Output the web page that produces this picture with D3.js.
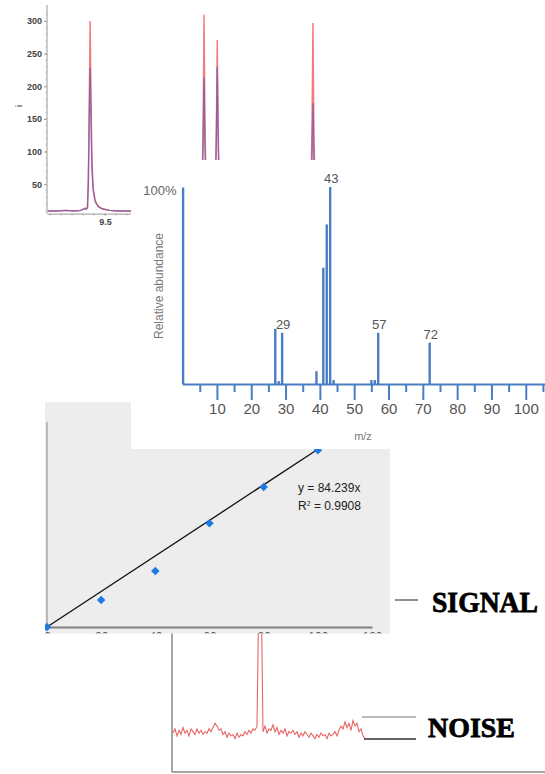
<!DOCTYPE html>
<meta charset="utf-8">
<script src="https://cdn.jsdelivr.net/npm/d3@7"></script>
<style>
body { margin: 0; background: #fff; }
svg { display: block; }
.serifbig { font-family: "Liberation Serif", "DejaVu Serif", serif; font-weight: 900; }
</style>
<body></body>
<script>
// ---- chromatogram (top left) ----
var chromTime = [9.24, 9.28, 9.32, 9.36, 9.39, 9.41, 9.415, 9.42, 9.424, 9.428, 9.432, 9.436, 9.44, 9.446, 9.455, 9.47, 9.49, 9.52, 9.56, 9.62, 9.7, 9.8, 9.9, 9.93, 9.94, 9.946, 9.95, 9.954, 9.96, 9.97, 9.99, 10.0, 10.006, 10.01, 10.014, 10.02, 10.03, 10.05, 10.1, 10.2, 10.3, 10.4, 10.425, 10.435, 10.441, 10.445, 10.449, 10.455, 10.465, 10.49, 10.6, 10.8, 11.0, 11.2, 11.5];
var chromRed = [9, 9, 10, 9, 10, 13, 12, 14, 60, 180, 300, 190, 90, 45, 25, 16, 12, 10, 9, 9, 9, 9, 9, 9, 20, 150, 310, 150, 25, 12, 10, 20, 140, 271, 140, 22, 11, 9, 9, 9, 9, 9, 9, 20, 150, 297, 150, 22, 11, 9, 9, 9, 9, 9, 9];
var chromPurple = [9, 9, 10, 9, 10, 13, 12, 14, 50, 140, 228, 150, 75, 40, 23, 15, 12, 10, 9, 9, 9, 9, 9, 9, 18, 110, 214, 110, 22, 12, 10, 18, 120, 229, 120, 20, 11, 9, 9, 9, 9, 9, 9, 18, 90, 174, 90, 20, 11, 9, 9, 9, 9, 9, 9];
var chromTicks = [50, 100, 150, 200, 250, 300];

// ---- mass spectrum ----
var msMz = [27, 28, 29, 39, 41, 42, 43, 44, 55, 56, 57, 72];
var msAbund = [28, 1.5, 26, 6.5, 59, 81, 100, 2, 2, 2, 26, 21];
var msLabelled = [29, 43, 57, 72];
var msMajorTicks = [10, 20, 30, 40, 50, 60, 70, 80, 90, 100];
var msMinorTicks = [5, 15, 25, 35, 45, 55, 65, 75, 85, 95, 105];

// ---- calibration ----
var calConc = [0, 20, 40, 60, 80, 100];
var calResp = [0, 1280, 2650, 4920, 6630, 8380];
var calSlope = 84.239;
var calXTicks = [0, 20, 40, 60, 80, 100, 120];

// ---- signal / noise trace ----
var noise = [28, 31, 26, 30, 27, 32, 28, 30, 26, 31,
             29, 27, 31, 28, 30, 27, 29, 28, 31, 29,
             32, 35, 33, 30, 31, 27, 29, 25, 28, 26,
             27, 24, 28, 25, 27, 26, 29, 27, 30, 28,
             31, 30, 33, 140, 140, 29, 33, 28, 31, 30,
             34, 29, 32, 27, 30, 28, 31, 26, 29, 28,
             30, 27, 29, 25, 28, 26, 29, 27, 25, 28,
             26, 24, 27, 25, 28, 26, 27, 24, 28, 26,
             27, 29, 26, 30, 33, 31, 36, 32, 35, 30,
             37, 33, 35, 29, 31, 26, 24];

var W = 545, H = 774;
var svg = d3.select("body").append("svg").attr("width", W).attr("height", H);
svg.append("rect").attr("width", W).attr("height", H).attr("fill", "#fff");
var defs = svg.append("defs");

// ================= chromatogram =================
var xC = d3.scaleLinear().domain([9.236, 11.5]).range([47, 545]);
var yC = d3.scaleLinear().domain([5, 300]).range([213.6, 21]);
var gC = svg.append("g");

var chromData = chromTime.map(function(t, i) { return {t: t, r: chromRed[i], p: chromPurple[i]}; });
gC.append("path").datum(chromData)
  .attr("fill", "none").attr("stroke", "#f27a7a").attr("stroke-width", 1.4)
  .attr("d", d3.line().x(function(d) { return xC(d.t); }).y(function(d) { return yC(d.r); }));
gC.append("path").datum(chromData)
  .attr("fill", "none").attr("stroke", "#7b5aa6").attr("stroke-width", 1.4).attr("opacity", 0.8)
  .attr("d", d3.line().x(function(d) { return xC(d.t); }).y(function(d) { return yC(d.p); }));

var yAxC = gC.append("g").attr("transform", "translate(47,0)")
  .call(d3.axisLeft(yC).tickValues(chromTicks).tickSize(3).tickPadding(2).tickSizeOuter(0));
yAxC.select(".domain").attr("stroke", "#999").attr("d", "M0,5V213.6");
yAxC.selectAll(".tick line").attr("stroke", "#999");
yAxC.selectAll("text").attr("font-family", "Liberation Sans, Arial, sans-serif")
  .attr("font-size", 9).attr("font-weight", "bold").attr("fill", "#444");
// minor ticks on the intensity axis
gC.append("g").selectAll("line").data(d3.range(10, 320, 10)).enter().append("line")
  .attr("x1", 45.5).attr("x2", 47).attr("y1", function(d) { return yC(d); }).attr("y2", function(d) { return yC(d); })
  .attr("stroke", "#aaa").attr("stroke-width", 0.8);

var xAxC = gC.append("g").attr("transform", "translate(0,213.6)")
  .call(d3.axisBottom(xC).tickValues([9.5]).tickSize(2).tickPadding(3).tickFormat(d3.format(".1f")).tickSizeOuter(0));
xAxC.select(".domain").attr("stroke", "#999");
xAxC.selectAll(".tick line").attr("stroke", "#999");
xAxC.selectAll("text").attr("font-family", "Liberation Sans, Arial, sans-serif")
  .attr("font-size", 9).attr("font-weight", "bold").attr("fill", "#444");
gC.append("g").selectAll("line").data(d3.range(9.25, 9.66, 0.05)).enter().append("line")
  .attr("x1", function(d) { return xC(d); }).attr("x2", function(d) { return xC(d); })
  .attr("y1", 213.6).attr("y2", 215.5).attr("stroke", "#aaa");
gC.append("text").attr("transform", "translate(22,106) rotate(-90)")
  .attr("text-anchor", "middle").attr("font-family", "Liberation Sans, Arial, sans-serif")
  .attr("font-size", 9).attr("fill", "#444").text("i");

// ================= signal / noise panel =================
var gN = svg.append("g");
var xN = d3.scaleLinear().domain([0, noise.length - 1]).range([173, 365]);
var yN = d3.scaleLinear().domain([0, 100]).range([772, 633]);
gN.append("rect").attr("x", 170).attr("y", 633).attr("width", 375).attr("height", 141).attr("fill", "#fff");
gN.append("path").datum(noise)
  .attr("fill", "none").attr("stroke", "#e34b4b").attr("stroke-width", 1.1).attr("opacity", 0.85)
  .attr("d", d3.line().x(function(d, i) { return xN(i); }).y(function(d) { return yN(d); }));
gN.append("line").attr("x1", 172).attr("x2", 172).attr("y1", 633).attr("y2", 772)
  .attr("stroke", "#888").attr("stroke-width", 1.5);
gN.append("line").attr("x1", 172).attr("x2", 545).attr("y1", 772).attr("y2", 772)
  .attr("stroke", "#888").attr("stroke-width", 1.5);

// ================= calibration panel =================
defs.append("clipPath").attr("id", "calClip").append("rect")
  .attr("x", 45).attr("y", 402).attr("width", 345).attr("height", 231.5);
var gK = svg.append("g").attr("clip-path", "url(#calClip)");
var xK = d3.scaleLinear().domain([0, 120]).range([47, 372]);
var yK = d3.scaleLinear().domain([0, 10000]).range([627, 416]);
gK.append("rect").attr("x", 45).attr("y", 402).attr("width", 345).attr("height", 232).attr("fill", "#ededed");
gK.append("line").attr("x1", 47).attr("x2", 47).attr("y1", 422).attr("y2", 627)
  .attr("stroke", "#999").attr("stroke-width", 1.2);
var xAxK = gK.append("g").attr("transform", "translate(0,627)")
  .call(d3.axisBottom(xK).tickValues(calXTicks).tickSize(0).tickPadding(5).tickSizeOuter(0));
xAxK.select(".domain").attr("stroke", "#808080").attr("stroke-width", 2);
xAxK.selectAll("text").attr("font-family", "Liberation Sans, Arial, sans-serif")
  .attr("font-size", 12).attr("fill", "#555");
gK.append("line")
  .attr("x1", xK(0)).attr("y1", yK(0)).attr("x2", xK(100)).attr("y2", yK(calSlope * 100))
  .attr("stroke", "#111").attr("stroke-width", 1.3);
gK.selectAll(".pt").data(calConc).enter().append("path").attr("class", "pt")
  .attr("transform", function(d, i) { return "translate(" + xK(d) + "," + yK(calResp[i]) + ") rotate(45)"; })
  .attr("d", d3.symbol().type(d3.symbolSquare).size(36))
  .attr("fill", "#1f7ae0");
var eq = gK.append("text").attr("font-family", "Liberation Sans, Arial, sans-serif")
  .attr("font-size", 12).attr("fill", "#222");
eq.append("tspan").attr("x", 298).attr("y", 492).text("y = " + calSlope + "x");
var r2 = gK.append("text").attr("font-family", "Liberation Sans, Arial, sans-serif")
  .attr("font-size", 12).attr("fill", "#222").attr("x", 298).attr("y", 510);
r2.append("tspan").text("R");
r2.append("tspan").attr("dy", -4).attr("font-size", 7).text("2");
r2.append("tspan").attr("dy", 4).text(" = 0.9908");

// ================= mass spectrum =================
var gM = svg.append("g");
gM.append("rect").attr("x", 131).attr("y", 160).attr("width", 414).attr("height", 289).attr("fill", "#fff");
var xM = d3.scaleLinear().domain([0, 105.6]).range([182.6, 545]);
var yM = d3.scaleLinear().domain([0, 100]).range([384, 187]);
var blue = "#4a7ec4";

gM.selectAll(".peak").data(msMz).enter().append("line").attr("class", "peak")
  .attr("x1", function(d) { return xM(d); }).attr("x2", function(d) { return xM(d); })
  .attr("y1", yM(0)).attr("y2", function(d, i) { return yM(msAbund[i]); })
  .attr("stroke", blue).attr("stroke-width", 2.4);

var xAxM = gM.append("g").attr("transform", "translate(0,384)")
  .call(d3.axisBottom(xM).tickValues(msMajorTicks).tickSize(16).tickPadding(3).tickSizeOuter(0));
xAxM.select(".domain").attr("stroke", blue).attr("stroke-width", 2.2);
xAxM.selectAll(".tick line").attr("stroke", blue).attr("stroke-width", 2);
xAxM.selectAll("text").attr("font-family", "Liberation Sans, Arial, sans-serif")
  .attr("font-size", 15).attr("fill", "#555");
var minorM = gM.append("g").attr("transform", "translate(0,384)")
  .call(d3.axisBottom(xM).tickValues(msMinorTicks).tickSize(8).tickFormat("").tickSizeOuter(0));
minorM.select(".domain").remove();
minorM.selectAll(".tick line").attr("stroke", blue).attr("stroke-width", 2);

var yAxM = gM.append("g").attr("transform", "translate(182.6,0)")
  .call(d3.axisLeft(yM).tickValues([100]).tickSize(0).tickPadding(6).tickSizeOuter(0)
    .tickFormat(function(d) { return d + "%"; }));
yAxM.select(".domain").attr("stroke", blue).attr("stroke-width", 2.4);
yAxM.selectAll("text").attr("font-family", "Liberation Sans, Arial, sans-serif")
  .attr("font-size", 13).attr("fill", "#666").attr("dy", "0.55em");

gM.selectAll(".plab").data(msLabelled).enter().append("text").attr("class", "plab")
  .attr("x", function(d) { return xM(d) + 1; })
  .attr("y", function(d) { return yM(msAbund[msMz.indexOf(d)]) - 4; })
  .attr("text-anchor", "middle").attr("font-family", "Liberation Sans, Arial, sans-serif")
  .attr("font-size", 13).attr("fill", "#555").text(function(d) { return d; });

gM.append("text").attr("transform", "translate(163,286) rotate(-90)")
  .attr("text-anchor", "middle").attr("font-family", "Liberation Sans, Arial, sans-serif")
  .attr("font-size", 12).attr("fill", "#777").text("Relative abundance");
gM.append("text").attr("x", 363).attr("y", 440).attr("text-anchor", "middle")
  .attr("font-family", "Liberation Sans, Arial, sans-serif")
  .attr("font-size", 11).attr("fill", "#777").text("m/z");

// ================= signal / noise labels =================
var gL = svg.append("g");
gL.append("line").attr("x1", 395).attr("x2", 418).attr("y1", 600).attr("y2", 600)
  .attr("stroke", "#444").attr("stroke-width", 1.2);
gL.append("line").attr("x1", 362).attr("x2", 416).attr("y1", 717).attr("y2", 717)
  .attr("stroke", "#777").attr("stroke-width", 1.2);
gL.append("line").attr("x1", 364).attr("x2", 416).attr("y1", 739).attr("y2", 739)
  .attr("stroke", "#333").attr("stroke-width", 1.3);
gL.append("text").attr("class", "serifbig").attr("x", 432).attr("y", 612)
  .attr("font-size", 29).attr("textLength", 106).attr("lengthAdjust", "spacingAndGlyphs")
  .attr("stroke", "#000").attr("stroke-width", 0.8).attr("fill", "#000").text("SIGNAL");
gL.append("text").attr("class", "serifbig").attr("x", 428).attr("y", 737)
  .attr("font-size", 28).attr("textLength", 87).attr("lengthAdjust", "spacingAndGlyphs")
  .attr("stroke", "#000").attr("stroke-width", 0.8).attr("fill", "#000").text("NOISE");
</script>
